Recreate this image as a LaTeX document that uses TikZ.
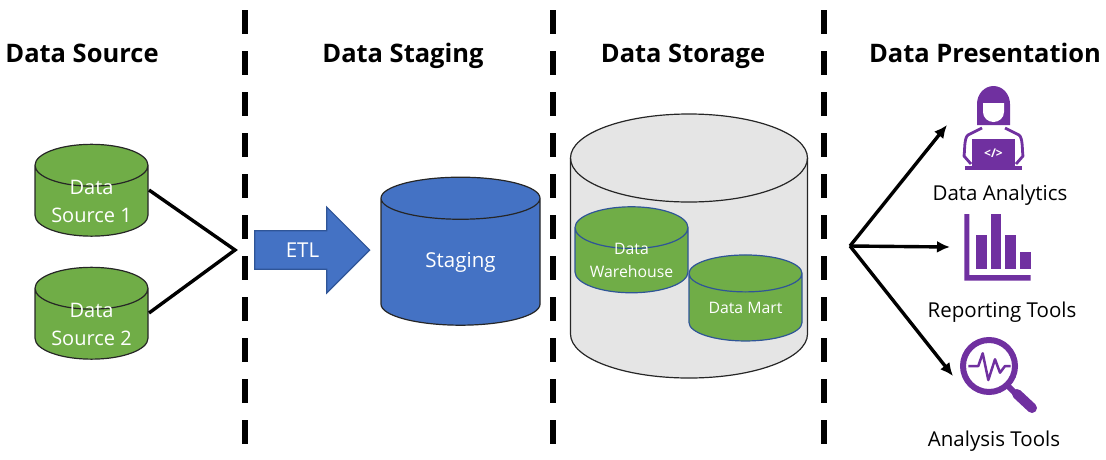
\documentclass[tikz,border=0pt]{standalone}
\usepackage{fontspec}
\setmainfont{Open Sans}
\usetikzlibrary{shapes.geometric,shapes.arrows,arrows.meta}
\definecolor{dbgreen}{HTML}{70AD47}
\definecolor{dbblue}{HTML}{4472C4}
\definecolor{dbedge}{HTML}{2F5597}
\definecolor{toolpurple}{HTML}{7030A0}
\tikzset{
    heading/.style={font=\fontsize{25.5}{30}\selectfont\bfseries, text=black, anchor=base},
    toollabel/.style={font=\fontsize{20.5}{24}\selectfont, text=black, anchor=base},
    sepline/.style={line width=5.5pt, dash pattern=on 24pt off 17pt},
    dbshape/.style={
        cylinder, shape border rotate=90, draw=#1, line width=1.2pt, cylinder uses custom fill,
        align=center, text=white, inner sep=0pt
    },
    srcdb/.style={
        dbshape=black!85, cylinder body fill=dbgreen, cylinder end fill=dbgreen,
        minimum width=113pt, minimum height=86pt, shape aspect=0.52, inner ysep=-7pt,
        font=\fontsize{20}{28}\selectfont
    },
    martdb/.style={
        dbshape=dbedge, cylinder body fill=dbgreen, cylinder end fill=dbgreen,
        minimum width=113pt, minimum height=86pt, shape aspect=0.5,
        font=\fontsize{15.8}{23}\selectfont
    },
    flow/.style={line width=3.4pt, -{Latex[length=13pt,width=12pt]}},
    mergeline/.style={line width=3.4pt, line join=miter}
}
\begin{document}
\begin{tikzpicture}[x=1pt,y=-1pt]
\useasboundingbox (0,0) rectangle (1106,459);

% ==== Headings ====
\node[heading] (hsource) at (82,62) {Data Source};
\node[heading] (hstaging) at (403,62) {Data Staging};
\node[heading] (hstorage) at (683,62) {Data Storage};
\node[heading] (hpresent) at (985,62) {Data Presentation};

% ==== Separators ====
\foreach \sx in {245,553,824} {
    \draw[sepline] (\sx,10) -- (\sx,445);
}

% ==== Data Source ====
\node[srcdb] (source1) at (91.5,201) {Data\\Source 1};
\node[srcdb] (source2) at (91.5,324) {Data\\Source 2};
\coordinate (merge) at (235,250);
\draw[mergeline] (149,190) -- (merge) -- (149,313);

% ==== Data Staging ====
\node[single arrow, draw=dbedge, line width=1.2pt, fill=dbblue, text=white,
      minimum height=115pt, minimum width=86pt, single arrow head extend=22pt,
      single arrow tip angle=90, inner xsep=0pt, inner ysep=10pt, font=\fontsize{20.5}{24}\selectfont]
      (etl) at (302.5,250) {ETL};
\node[dbshape=black!85, cylinder body fill=dbblue, cylinder end fill=dbblue,
      minimum width=159pt, minimum height=148pt, shape aspect=0.6,
      font=\fontsize{20.5}{24}\selectfont] (staging) at (460.5,262) {Staging};

% ==== Data Storage ====
\draw[draw=black!85, line width=1.2pt, fill=black!10]
    (570.5,158) -- (570.5,334) arc[start angle=180, end angle=360, x radius=118.5pt, y radius=44pt]
    -- (807.5,158) arc[start angle=0, end angle=180, x radius=118.5pt, y radius=44pt] -- cycle;
\draw[draw=black!85, line width=1.2pt]
    (570.5,158) arc[start angle=180, end angle=360, x radius=118.5pt, y radius=44pt];
\node[martdb, inner ysep=-6pt] (warehouse) at (631.5,260.5) {Data\\Warehouse};
\node[martdb] (mart) at (745.5,307.5) {Data Mart};

% ==== Data Presentation ====
\coordinate (fork) at (850,246);
\coordinate (toanalytics) at (947,125);
\coordinate (toreporting) at (950,247);
\coordinate (toanalysis) at (953,376);
\draw[flow] (fork) -- (toanalytics);
\draw[flow] (fork) -- (toreporting);
\draw[flow] (fork) -- (toanalysis);

% analyst icon
\fill[toolpurple] (977,125) -- (977,104) arc[start angle=180, end angle=0, x radius=16.5pt, y radius=18pt]
    -- (1010,125) -- cycle;
\fill[white] (983,103) -- (1004,103) -- (1004,112) arc[start angle=0, end angle=-180, x radius=10.5pt, y radius=10pt] -- cycle;
\draw[toolpurple, line width=2.8pt, line join=round]
    (982,128) -- (968,135) .. controls (964,138) and (965,150) .. (964,156) -- (971,164);
\draw[toolpurple, line width=2.8pt, line join=round]
    (1005,128) -- (1019,135) .. controls (1023,138) and (1022,150) .. (1023,156) -- (1016,164);
\fill[toolpurple] (972,139) rectangle (1015,166);
\fill[toolpurple] (965,166) rectangle (1022,169.5);
\node[text=white, inner sep=0pt, font=\fontsize{12}{14}\selectfont\bfseries] (code) at (993.5,153) {</>};
\node[toollabel] (analytics) at (1000,200) {Data Analytics};

% chart icon
\fill[toolpurple] (964.3,214) -- (969.3,214) -- (969.3,275) -- (1030.7,275) -- (1030.7,280.7) -- (964.3,280.7) -- cycle;
\fill[toolpurple] (976,235) rectangle (986.7,269);
\fill[toolpurple] (990.7,214) rectangle (1001.3,269);
\fill[toolpurple] (1005.3,235) rectangle (1016,269);
\fill[toolpurple] (1020,251.7) rectangle (1030.7,269);
\node[toollabel] (reporting) at (1002,317) {Reporting Tools};

% magnifier icon
\draw[toolpurple, line width=6pt] (989,366) circle[radius=26pt];
\draw[toolpurple, line width=6pt] (1007,385) -- (1016,394);
\draw[toolpurple, line width=10pt, line cap=round] (1017,394) -- (1032,408);
\draw[toolpurple, line width=2.5pt, line join=round]
    (968.3,366) -- (978.3,366) -- (982.7,353.3) -- (988.3,380) -- (995,359.3) -- (1000,372.7) -- (1005,366) -- (1010.7,366);
\node[toollabel] (analysis) at (994,446) {Analysis Tools};
\end{tikzpicture}
\end{document}
